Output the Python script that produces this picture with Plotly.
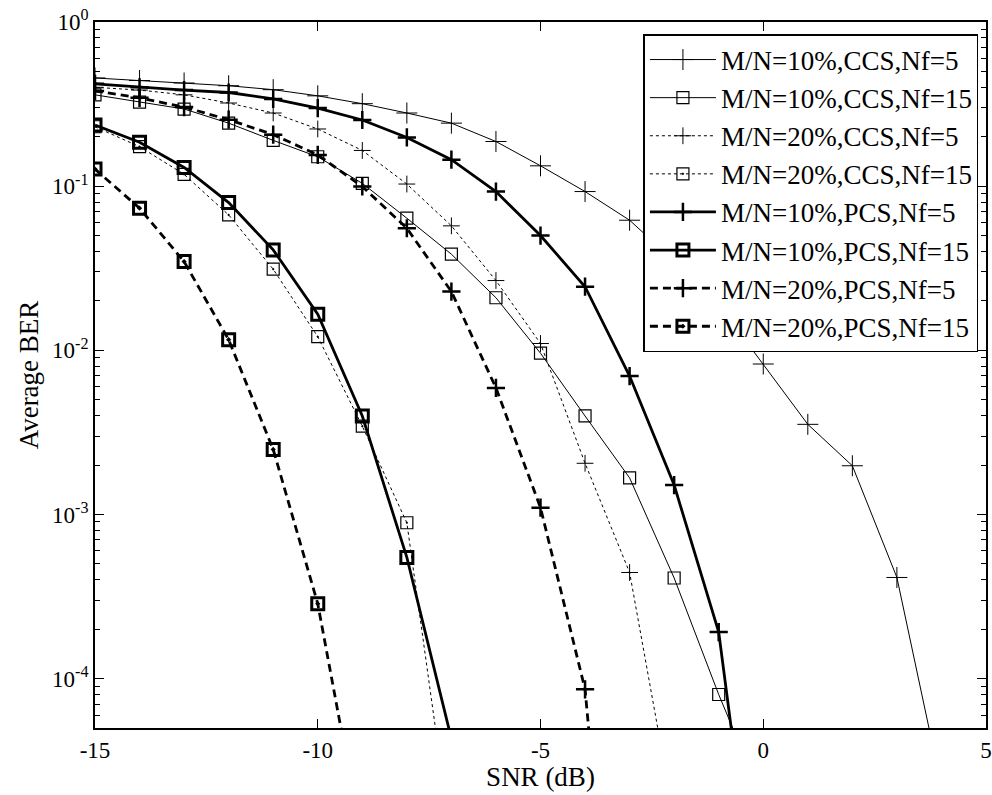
import plotly.graph_objects as go

# ---------------- data ----------------
snr = list(range(-15, 5))

ber_10_ccs_nf5 = [0.456, 0.44, 0.425, 0.409, 0.387, 0.355, 0.318, 0.279, 0.242, 0.187,
                  0.133, 0.0927, 0.062, 0.035, 0.019, 0.00825, 0.00354, 0.00198, 0.000413, 2.2e-5]
ber_10_ccs_nf15 = [0.36, 0.325, 0.295, 0.242, 0.19, 0.151, 0.104, 0.0638, 0.0385, 0.0209,
                   0.0096, 0.00398, 0.00167, 0.00041, 8e-5, 1.8e-5]
ber_20_ccs_nf5 = [0.40, 0.385, 0.36, 0.321, 0.279, 0.223, 0.165, 0.103, 0.0573, 0.0266,
                  0.011, 0.00205, 0.000443, 1.4e-5]
ber_20_ccs_nf15 = [0.23, 0.174, 0.118, 0.0668, 0.0312, 0.0121, 0.00345, 0.00089, 1e-5]
ber_10_pcs_nf5 = [0.42, 0.40, 0.385, 0.372, 0.34, 0.299, 0.253, 0.198, 0.145, 0.0927,
                  0.05, 0.0244, 0.00697, 0.00151, 0.000192, 1.6e-6]
ber_10_pcs_nf15 = [0.236, 0.185, 0.13, 0.0794, 0.0409, 0.0166, 0.00398, 0.000547, 4.3e-5]
ber_20_pcs_nf5 = [0.38, 0.345, 0.303, 0.254, 0.206, 0.155, 0.0995, 0.0554, 0.0228, 0.0059,
                  0.0011, 8.6e-5, 1e-7]
ber_20_pcs_nf15 = [0.127, 0.0734, 0.0347, 0.0116, 0.00249, 0.000286, 1e-5]

x_tick_vals = [-15, -10, -5, 0, 5]
x_tick_text = ["-15", "-10", "-5", "0", "5"]
y_tick_vals = [1e-4, 1e-3, 1e-2, 1e-1, 1]
y_tick_text = ["10<sup>-4</sup>", "10<sup>-3</sup>", "10<sup>-2</sup>", "10<sup>-1</sup>", "10<sup>0</sup>"]

series = [
    ("M/N=10%,CCS,Nf=5", ber_10_ccs_nf5, dict(width=1, dash="solid"),
     dict(symbol="cross-thin", size=15, line=dict(width=1, color="black"))),
    ("M/N=10%,CCS,Nf=15", ber_10_ccs_nf15, dict(width=1, dash="solid"),
     dict(symbol="square-open", size=12, line=dict(width=1.2, color="black"))),
    ("M/N=20%,CCS,Nf=5", ber_20_ccs_nf5, dict(width=1, dash="dot"),
     dict(symbol="cross-thin", size=12, line=dict(width=1, color="black"))),
    ("M/N=20%,CCS,Nf=15", ber_20_ccs_nf15, dict(width=1, dash="dot"),
     dict(symbol="square-open-dot", size=12, line=dict(width=1.2, color="black"))),
    ("M/N=10%,PCS,Nf=5", ber_10_pcs_nf5, dict(width=2.8, dash="solid"),
     dict(symbol="cross-thin", size=13, line=dict(width=2.5, color="black"))),
    ("M/N=10%,PCS,Nf=15", ber_10_pcs_nf15, dict(width=2.8, dash="solid"),
     dict(symbol="square-open", size=12, line=dict(width=3, color="black"))),
    ("M/N=20%,PCS,Nf=5", ber_20_pcs_nf5, dict(width=2.8, dash="8px,5px"),
     dict(symbol="cross-thin", size=13, line=dict(width=2.5, color="black"))),
    ("M/N=20%,PCS,Nf=15", ber_20_pcs_nf15, dict(width=2.8, dash="8px,5px"),
     dict(symbol="square-open-dot", size=12, line=dict(width=3, color="black"))),
]

fig = go.Figure()
for name, vals, ln, mk in series:
    fig.add_trace(go.Scatter(
        x=snr[:len(vals)], y=vals, name=name, mode="lines+markers",
        line=dict(color="black", **ln), marker=dict(color="black", **mk),
    ))

minor_vals = [k * 10.0 ** e for e in range(-5, 0) for k in range(2, 10)]

font_family = "Liberation Serif, Times New Roman, serif"

fig.update_layout(
    width=992, height=795,
    paper_bgcolor="white", plot_bgcolor="white",
    margin=dict(l=95, r=6, t=22, b=67),
    font=dict(family=font_family, color="black", size=23),
    showlegend=True,
    legend=dict(
        x=0.9915, y=0.983, xanchor="right", yanchor="top",
        bgcolor="white", bordercolor="black", borderwidth=1.5,
        font=dict(family=font_family, size=27, color="black"),
        itemwidth=66, tracegroupgap=0,
    ),
    xaxis=dict(
        range=[-15, 5], tickmode="array", tickvals=x_tick_vals, ticktext=x_tick_text,
        ticks="inside", ticklen=9, tickwidth=1.2, tickcolor="black",
        showline=True, linecolor="black", linewidth=1.8, mirror="ticks",
        showgrid=False, zeroline=False, automargin=False, ticklabeloverflow="allow",
        title=dict(text="SNR (dB)", font=dict(size=27), standoff=4),
        tickfont=dict(size=23),
    ),
    yaxis=dict(
        type="log", range=[-4.301, 0], tickmode="array",
        tickvals=y_tick_vals, ticktext=y_tick_text,
        ticks="inside", ticklen=9, tickwidth=1.2, tickcolor="black",
        showline=True, linecolor="black", linewidth=1.8, mirror="ticks",
        showgrid=False, zeroline=False, automargin=False, ticklabeloverflow="allow",
        minor=dict(tickmode="array", tickvals=minor_vals, ticks="inside",
                   ticklen=5, tickwidth=1, tickcolor="black", showgrid=False),
        title=dict(text="Average BER", font=dict(size=27), standoff=6),
        tickfont=dict(size=23),
    ),
)

# remove the browser's default page margin so the 992x795 figure fills the window
fig.write_html(
    "out.html",
    config={"displayModeBar": False},
    post_script="document.body.style.margin='0';document.body.style.overflow='hidden';",
)
